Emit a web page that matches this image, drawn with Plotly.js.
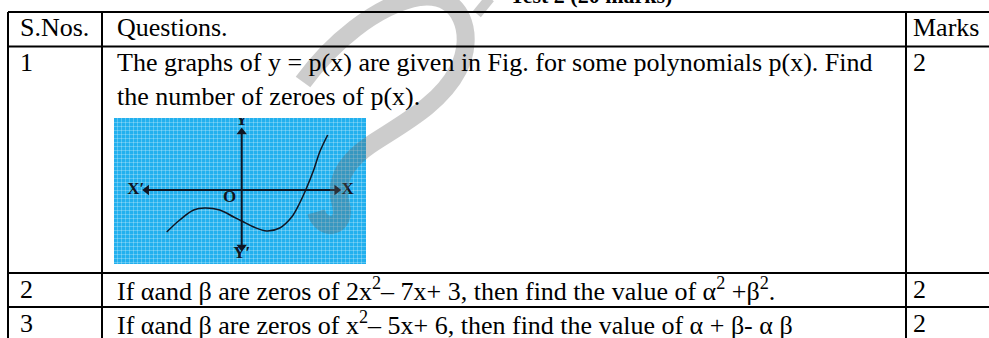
<!DOCTYPE html>
<html>
<head>
<meta charset="utf-8">
<script src="https://cdn.plot.ly/plotly-3.0.1.min.js"></script>
<style>
  html, body { margin: 0; padding: 0; background: #fff; }
  #chart { width: 989px; height: 338px; }
</style>
</head>
<body>
<div id="chart"></div>
<script>
// === Table content ===
const heading = "Test 2 (20 marks)";
const headers = ["S.Nos.", "Questions.", "Marks"];
const serials = ["1", "2", "3"];
const questionLines = [
  ["The graphs of y = p(x) are given in Fig. for some polynomials p(x). Find",
   "the number of zeroes of p(x)."],
  ["If αand β are zeros of 2x<sup>2</sup>– 7x+ 3, then find the value of α<sup>2</sup> +β<sup>2</sup>."],
  ["If αand β are zeros of x<sup>2</sup>– 5x+ 6, then find the value of α + β- α β"]
];
const marks = ["2", "2", "2"];

// === Figure in row 1: graph of y = p(x) (units) ===
const curveX = [-7.5, -6.2, -4.8, -3.7, -2.2, -0.8, 0, 1.2, 2.5, 3.8, 5.0, 5.8, 6.4, 7.2, 7.8, 8.6];
const curveY = [-4.2, -3.0, -2.0, -1.8, -2.0, -2.7, -3.1, -3.7, -4.1, -3.8, -2.7, -1.3, 0, 2.0, 3.8, 5.5];
const xAxisEnds = [-9.5, 9.5];
const yAxisEnds = [-5.7, 5.8];
const axisLabels = ["X′", "X", "Y", "Y′", "O"];
const labelX = [-10.6, 10.6, 0, 0, -1.2];
const labelY = [0, 0, 6.9, -6.4, -0.8];

// === Page geometry (pixels) ===
const W = 989, H = 338;
const colX = [8, 102, 906, 1000];
const rowY = [12, 46.5, 273, 307, 350];
const textX = [20, 117, 913];
const fs = 26;
const lineGap = 33.5;
const baseOffset = 25.2;
const px = x => x / W;
const py = y => 1 - y / H;
const serif = "Liberation Serif, Times New Roman, serif";

// text annotation placed by its baseline
function label(text, x, baseline) {
  return {
    xref: "paper", yref: "paper",
    x: px(x - 2), y: py(baseline - 0.3375 * fs),
    xanchor: "left", yanchor: "middle",
    text, showarrow: false,
    font: { family: serif, size: fs, color: "#000" }
  };
}

const annotations = [];

// clipped heading above the table
annotations.push({
  xref: "paper", yref: "paper", x: px(674), y: py(-5),
  xanchor: "right", yanchor: "middle", showarrow: false,
  text: "<b>" + heading + "</b>",
  font: { family: serif, size: 22, color: "#000" }
});

// header row
headers.forEach((h, i) => annotations.push(label(h, textX[i], rowY[0] + baseOffset - 1)));

// body rows
serials.forEach((s, r) => {
  const base = rowY[r + 1] + baseOffset;
  annotations.push(label(s, textX[0], base));
  questionLines[r].forEach((ln, k) => annotations.push(label(ln, textX[1], base + k * lineGap)));
  annotations.push(label(marks[r], textX[2], base));
});

// watermark (grey "S" stroke) drawn in pixel space, then the table rules
const shapes = [];
const toPaper = pts => pts.map(([x, y]) => `${px(x)},${py(y)}`);
function curvePath(start, segs) {
  let d = "M " + toPaper([start])[0];
  segs.forEach(seg => { d += " C " + toPaper(seg).join(" "); });
  return d;
}
const wmStyle = { color: "rgba(100,100,100,0.33)", width: 18 };
shapes.push({
  type: "path", xref: "paper", yref: "paper", layer: "above",
  path: curvePath([303, 82], [
    [[330, 45], [375, 5], [420, -3]],
    [[462, -8], [476, 35], [458, 70]],
    [[440, 105], [400, 125], [370, 145]],
    [[345, 162], [334, 182], [341, 205]],
    [[347, 228], [322, 232], [316, 212]]
  ]),
  line: wmStyle
});
shapes.push({
  type: "path", xref: "paper", yref: "paper", layer: "above",
  path: "M " + toPaper([[477, 14], [490, -2]]).join(" L "),
  line: { color: wmStyle.color, width: 10 }
});

const rule = { color: "#000", width: 2 };
rowY.slice(0, 4).forEach(y => shapes.push({
  type: "line", xref: "paper", yref: "paper", layer: "above",
  x0: px(colX[0]), x1: px(colX[3]), y0: py(y), y1: py(y), line: rule
}));
colX.forEach(x => shapes.push({
  type: "line", xref: "paper", yref: "paper", layer: "above",
  x0: px(x), x1: px(x), y0: py(rowY[0]), y1: py(rowY[4]), line: rule
}));

// === Traces for the small graph ===
const ink = "#111522";
const traces = [
  { x: xAxisEnds, y: [0, 0], mode: "lines", line: { color: ink, width: 2 }, hoverinfo: "skip" },
  { x: [0, 0], y: yAxisEnds, mode: "lines", line: { color: ink, width: 2 }, hoverinfo: "skip" },
  {
    x: [xAxisEnds[0], xAxisEnds[1], 0, 0],
    y: [0, 0, yAxisEnds[1], yAxisEnds[0]],
    mode: "markers",
    marker: { symbol: ["triangle-left", "triangle-right", "triangle-up", "triangle-down"], size: 9, color: ink },
    hoverinfo: "skip"
  },
  { x: curveX, y: curveY, mode: "lines", line: { color: ink, width: 1.5, shape: "spline" }, hoverinfo: "skip" },
  {
    x: labelX, y: labelY, mode: "text", text: axisLabels,
    textfont: { family: serif, size: 17, color: ink, weight: "bold" },
    textposition: "middle center", hoverinfo: "skip"
  }
];

const gridAxis = {
  showticklabels: false, ticks: "", zeroline: false, showline: false,
  showgrid: true, dtick: 0.4, gridcolor: "rgba(255,255,255,0.25)", gridwidth: 1,
  fixedrange: true
};

const layout = {
  width: W, height: H,
  margin: { l: 0, r: 0, t: 0, b: 0 },
  paper_bgcolor: "#fff",
  plot_bgcolor: "#22b0ee",
  showlegend: false,
  xaxis: Object.assign({}, gridAxis, { domain: [px(114), px(366)], range: [-12.77, 12.43] }),
  yaxis: Object.assign({}, gridAxis, { domain: [py(264), py(118)], range: [-7.4, 7.2] }),
  shapes, annotations
};

Plotly.newPlot("chart", traces, layout, { staticPlot: true, displayModeBar: false });
</script>
</body>
</html>
